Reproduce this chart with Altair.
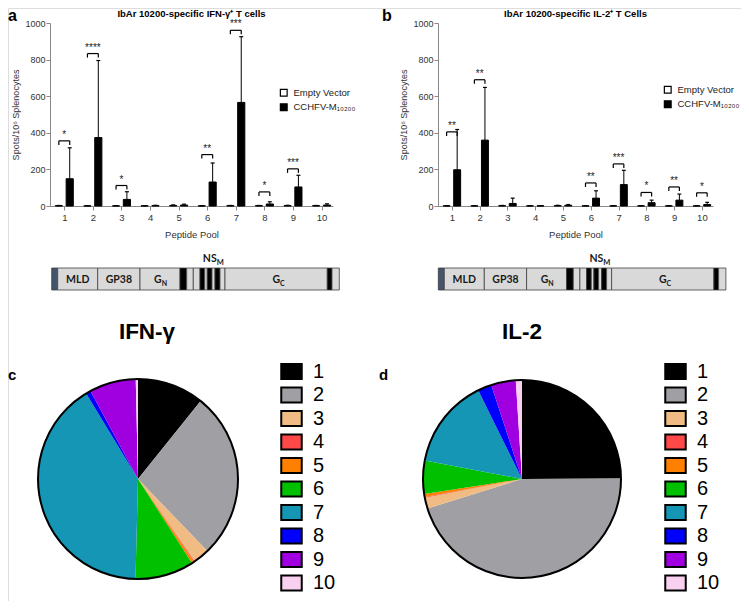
import altair as alt
import pandas as pd

# ---------------- data ----------------
pools = list(range(1, 11))
groups = ["Empty Vector", "CCHFV-M₁₀₂₀₀"]

ifn_empty_mean = [2, 1, 1, 1, 3, 1, 2, 2, 2, 2]
ifn_empty_upper = [3, 2, 2, 2, 6, 2, 3, 3, 4, 3]
ifn_cchfv_mean = [149, 374, 36, 2, 5, 131, 566, 11, 104, 5]
ifn_cchfv_upper = [318, 795, 78, 4, 10, 235, 925, 23, 168, 12]

il2_empty_mean = [1, 1, 2, 1, 2, 1, 1, 1, 1, 1]
il2_empty_upper = [2, 2, 3, 2, 4, 2, 2, 2, 2, 2]
il2_cchfv_mean = [198, 360, 14, 1, 4, 43, 117, 18, 32, 8]
il2_cchfv_upper = [418, 648, 43, 2, 8, 83, 195, 32, 65, 20]

ifn_sig_pools = [1, 2, 3, 6, 7, 8, 9]
ifn_sig_level = [356, 833, 112, 281, 960, 77, 203]
ifn_sig_stars = ["*", "****", "*", "**", "***", "*", "***"]
il2_sig_pools = [1, 2, 6, 7, 8, 9, 10]
il2_sig_level = [405, 690, 126, 230, 74, 104, 72]
il2_sig_stars = ["**", "**", "**", "***", "*", "**", "*"]

pie_labels = [str(p) for p in pools]
pie_colors = ["#000000", "#A0A0A4", "#F0BC84", "#FF4848", "#FF8000",
              "#00C000", "#1496B4", "#0000FF", "#A000E0", "#F8D0F0"]

bar_titles = ["IbAr 10200-specific IFN-γ⁺ T cells", "IbAr 10200-specific IL-2⁺ T Cells"]
pie_titles = ["IFN-γ", "IL-2"]
panel_letters = ["a", "b", "c", "d"]

# schematic of the M segment (relative units)
seg_edges = [0, 6, 46, 88.3, 128.3, 135, 141.6, 148.3, 153, 155.6, 160.3,
             163.3, 168.3, 173.3, 275.6, 280.3, 287.6]
seg_kind = ["strip", "gray", "gray", "gray", "black", "gray", "gray", "black",
            "gray", "black", "gray", "black", "gray", "gray", "black", "gray"]
schem_center_text = ["MLD", "GP38"]
schem_center_x = [26.0, 67.2]
schem_sub_main = ["G", "G"]
schem_sub_small = ["N", "C"]
schem_sub_x = [110.0, 228.3]
schem_top_main = ["NS"]
schem_top_small = ["M"]
schem_top_x = [165.0]

# ---------------- layout constants ----------------
W, H = 733, 593
FONT = "Liberation Sans"
Y0, Y1 = 198, 15
OFF, BW, CAP = 0.19, 0.125, 0.07
AX_TXT = "#333333"


def text_layer(s, x, y, size, weight="normal", align="center", baseline="alphabetic", font=FONT, color="black"):
    return alt.Chart(alt.Data(values=[{"t": s}])).mark_text(
        align=align, baseline=baseline, fontSize=size, fontWeight=weight, font=font, color=color
    ).encode(x=alt.value(x), y=alt.value(y), text="t:N")


def bar_panel(me, ue, mc, uc, sp, sl, ss, x_range, legend_xy):
    rows = []
    for i, p in enumerate(pools):
        rows.append(dict(pool=p, gi=0, group=groups[0], mean=me[i], upper=ue[i]))
        rows.append(dict(pool=p, gi=1, group=groups[1], mean=mc[i], upper=uc[i]))
    df = pd.DataFrame(rows)
    xs = alt.Scale(domain=[0.5, 10.4], range=x_range, nice=False, zero=False)
    ys = alt.Scale(domain=[0, 1000], range=[Y0, Y1], nice=False, zero=False)
    base = alt.Chart(df).transform_calculate(
        xc=f"datum.pool + (datum.gi == 0 ? -{OFF} : {OFF})"
    ).transform_calculate(
        x0=f"datum.xc - {BW}", x1=f"datum.xc + {BW}",
        c0=f"datum.xc - {CAP}", c1=f"datum.xc + {CAP}", zero="0"
    )
    bars = base.mark_rect(stroke="black", strokeWidth=1).encode(
        x=alt.X("x0:Q", scale=xs, axis=alt.Axis(
            orient="bottom", offset=Y0 - H, values=pools, format="d", title="Peptide Pool",
            grid=False, tickSize=4, labelPadding=2, titlePadding=8,
            titleFontWeight="normal", titleFont=FONT, titleFontSize=9.5, titleColor=AX_TXT,
            labelFont=FONT, labelFontSize=9.5, labelColor=AX_TXT)),
        x2="x1:Q",
        y=alt.Y("mean:Q", scale=ys, axis=alt.Axis(
            orient="left", offset=-x_range[0], values=[0, 200, 400, 600, 800, 1000],
            format="d", title="Spots/10⁶ Splenocytes", grid=False, tickSize=4,
            labelPadding=1, titlePadding=4,
            titleFontWeight="normal", titleFont=FONT, titleFontSize=9, titleColor=AX_TXT,
            labelFont=FONT, labelFontSize=9, labelColor=AX_TXT)),
        y2="zero:Q",
        fill=alt.Fill("group:N", scale=alt.Scale(domain=groups, range=["white", "black"]),
                      legend=alt.Legend(orient="none", legendX=legend_xy[0], legendY=legend_xy[1],
                                        title=None, symbolType="square", symbolSize=46,
                                        symbolStrokeColor="black", symbolStrokeWidth=1.2,
                                        labelFontSize=9.5, labelFont=FONT, labelColor="#222",
                                        rowPadding=1.5, labelOffset=5, padding=0,
                                        direction="vertical")),
    )
    errs = base.mark_rule(color="black", strokeWidth=1).encode(
        x=alt.X("xc:Q", scale=xs, axis=None),
        y=alt.Y("mean:Q", scale=ys, axis=None), y2="upper:Q")
    caps = base.mark_rule(color="black", strokeWidth=1.2).encode(
        x=alt.X("c0:Q", scale=xs, axis=None), x2="c1:Q",
        y=alt.Y("upper:Q", scale=ys, axis=None))

    sdf = pd.DataFrame(dict(pool=sp, level=sl, stars=ss))
    sbase = alt.Chart(sdf).transform_calculate(
        b0=f"datum.pool - {OFF}", b1=f"datum.pool + {OFF}", low="datum.level - 22")
    hline = sbase.mark_rule(color="black", strokeWidth=1.2).encode(
        x=alt.X("b0:Q", scale=xs, axis=None), x2="b1:Q",
        y=alt.Y("level:Q", scale=ys, axis=None))
    vticks = sbase.transform_fold(["b0", "b1"], as_=["end", "bx"]).mark_rule(
        color="black", strokeWidth=1.2).encode(
        x=alt.X("bx:Q", scale=xs, axis=None),
        y=alt.Y("level:Q", scale=ys, axis=None), y2="low:Q")
    stars = sbase.mark_text(baseline="bottom", dy=-1, fontSize=10, font=FONT, color="#222").encode(
        x=alt.X("pool:Q", scale=xs, axis=None),
        y=alt.Y("level:Q", scale=ys, axis=None), text="stars:N")
    return [bars, errs, caps, hline, vticks, stars]


def schematic(x_range):
    sdf = pd.DataFrame(dict(x0=seg_edges[:-1], x1=seg_edges[1:], kind=seg_kind))
    sx = alt.Scale(domain=[0, seg_edges[-1]], range=x_range, nice=False, zero=False)
    rects = alt.Chart(sdf).mark_rect(stroke="#404040", strokeWidth=0.8).encode(
        x=alt.X("x0:Q", scale=sx, axis=None), x2="x1:Q",
        y=alt.value(260), y2=alt.value(282),
        fill=alt.Fill("kind:N", scale=alt.Scale(domain=["strip", "gray", "black"],
                                                 range=["#44546A", "#D9D9D9", "#000000"]),
                      legend=None))
    cdf = pd.DataFrame(dict(x=schem_center_x, t=schem_center_text))
    ctext = alt.Chart(cdf).mark_text(fontSize=10.5, fontWeight="bold", font="Lato",
                                     baseline="middle", color="#1a1a1a").encode(
        x=alt.X("x:Q", scale=sx, axis=None), y=alt.value(272), text="t:N")
    gdf = pd.DataFrame(dict(x=schem_sub_x, m=schem_sub_main, s=schem_sub_small))
    gmain = alt.Chart(gdf).mark_text(fontSize=10.5, fontWeight="bold", font="Lato",
                                     align="right", baseline="middle", color="#1a1a1a").encode(
        x=alt.X("x:Q", scale=sx, axis=None), y=alt.value(272), text="m:N")
    gsub = alt.Chart(gdf).mark_text(fontSize=7, fontWeight="bold", font="Lato",
                                    align="left", baseline="middle", color="#1a1a1a").encode(
        x=alt.X("x:Q", scale=sx, axis=None), y=alt.value(275.5), text="s:N")
    tdf = pd.DataFrame(dict(x=schem_top_x, m=schem_top_main, s=schem_top_small))
    tmain = alt.Chart(tdf).mark_text(fontSize=10.5, fontWeight="bold", font="Lato",
                                     align="right", baseline="alphabetic", color="#1a1a1a").encode(
        x=alt.X("x:Q", scale=sx, axis=None), y=alt.value(254), text="m:N")
    tsub = alt.Chart(tdf).mark_text(fontSize=7.5, fontWeight="bold", font="Lato",
                                    align="left", baseline="alphabetic", color="#1a1a1a").encode(
        x=alt.X("x:Q", scale=sx, axis=None), y=alt.value(256.5), text="s:N")
    return [rects, ctext, gmain, gsub, tmain, tsub]


RECT_PATH = "M-1,-0.72L1,-0.72L1,0.72L-1,0.72Z"


def pie(values, cx, cy, r, legend_xy):
    pdf = pd.DataFrame(dict(pool=pools, label=pie_labels, val=values))
    slices = alt.Chart(pdf).mark_arc(radius=r, strokeWidth=0).encode(
        x=alt.value(cx), y=alt.value(cy),
        theta=alt.Theta("val:Q", stack=True),
        order=alt.Order("pool:Q", sort="ascending"),
        color=alt.Color("label:N", scale=alt.Scale(domain=pie_labels, range=pie_colors),
                        legend=alt.Legend(orient="none", legendX=legend_xy[0], legendY=legend_xy[1],
                                          title=None, symbolType=RECT_PATH, symbolSize=420,
                                          symbolStrokeColor="black", symbolStrokeWidth=2,
                                          symbolOpacity=1,
                                          labelFontSize=20, labelFont=FONT, labelColor="black",
                                          rowPadding=0.5, labelOffset=10, padding=0,
                                          direction="vertical")))
    outline = alt.Chart(alt.Data(values=[{"k": 1}])).mark_arc(
        radius=r, theta=0, theta2=6.2832, filled=False, stroke="black", strokeWidth=2
    ).encode(x=alt.value(cx), y=alt.value(cy))
    return [slices, outline]


layers = []
layers += bar_panel(ifn_empty_mean, ifn_empty_upper, ifn_cchfv_mean, ifn_cchfv_upper,
                    ifn_sig_pools, ifn_sig_level, ifn_sig_stars, [42, 325], (271, 80))
layers += bar_panel(il2_empty_mean, il2_empty_upper, il2_cchfv_mean, il2_cchfv_upper,
                    il2_sig_pools, il2_sig_level, il2_sig_stars, [430, 705], (655, 77))
layers += schematic([43.7, 331.3])
layers += schematic([430.3, 717.9])
layers += pie(ifn_cchfv_mean, 130, 471, 100, (272, 352))
layers += pie(il2_cchfv_mean, 514, 471, 99, (656, 352))
layers += [
    text_layer(bar_titles[0], 183.5, 8.5, 9.5, "bold"),
    text_layer(bar_titles[1], 567.5, 8.5, 9.5, "bold"),
    text_layer(pie_titles[0], 139, 331, 22.5, "bold"),
    text_layer(pie_titles[1], 514, 331, 22.5, "bold"),
    text_layer(panel_letters[0], 0, 13, 16, "bold", align="left"),
    text_layer(panel_letters[1], 374, 13, 16, "bold", align="left"),
    text_layer(panel_letters[2], 0, 372, 15, "bold", align="left"),
    text_layer(panel_letters[3], 371, 372, 15, "bold", align="left"),
]

chart = alt.layer(*layers).resolve_scale(
    x="independent", y="independent", fill="independent",
    color="independent", theta="independent"
).properties(
    width=W, height=H, padding=0, autosize=alt.AutoSizeParams(type="none")
).configure_view(stroke=None).configure_axis(
    domainColor="black", domainWidth=1.3, tickColor="black", tickWidth=1.3,
    labelFont=FONT, labelFontSize=9.5, labelColor=AX_TXT,
    titleFont=FONT, titleFontSize=9.5, titleFontWeight="normal", titleColor=AX_TXT
).configure(background="white")

chart.save("out.html", embed_options={"renderer": "svg", "actions": False})
